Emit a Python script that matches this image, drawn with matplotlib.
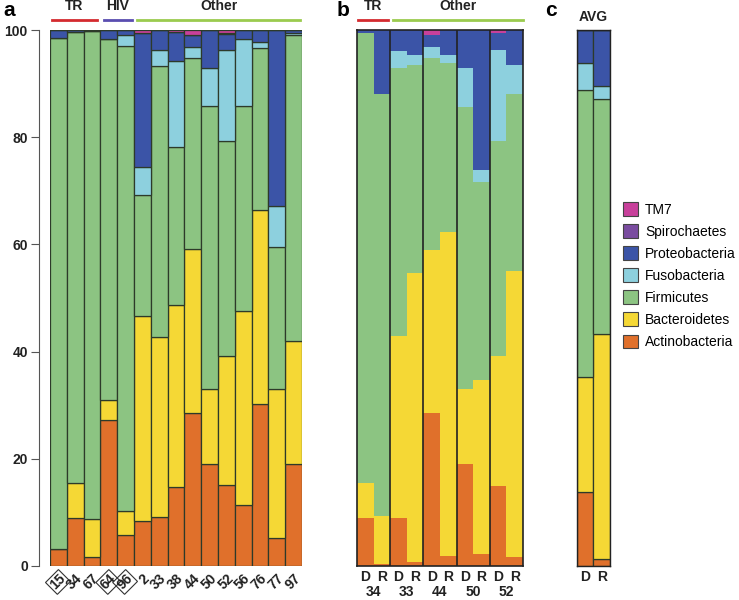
import numpy as np
import matplotlib
matplotlib.use("Agg")
import matplotlib.pyplot as plt
from matplotlib.patches import Patch
import matplotlib.transforms as mtransforms

plt.rcParams["font.family"] = ["Liberation Sans", "DejaVu Sans"]

phyla = ["Actinobacteria", "Bacteroidetes", "Firmicutes", "Fusobacteria",
         "Proteobacteria", "Spirochaetes", "TM7"]
colors = ["#E0702B", "#F5D835", "#8CC482", "#8DD0DE", "#3B54A7", "#7A4CA0", "#C8409B"]

# panel a: individual samples
samples_a = ["15", "34", "67", "64", "96", "2", "33", "38", "44", "50", "52", "56", "76", "77", "97"]
boxed_a = ["15", "64", "96"]
actino_a = [3.1, 9.0, 1.6, 27.2, 5.8, 8.3, 9.1, 14.8, 28.5, 19.1, 15.1, 11.3, 30.2, 5.3, 19.1]
bacter_a = [0.0, 6.4, 7.2, 3.8, 4.4, 38.4, 33.7, 33.8, 30.6, 13.9, 24.1, 36.3, 36.2, 27.7, 22.9]
firmic_a = [95.5, 84.2, 91.1, 67.3, 86.8, 22.5, 50.4, 29.6, 35.6, 52.8, 40.0, 38.2, 30.2, 26.5, 57.1]
fuso_a = [0.0, 0.0, 0.0, 0.0, 2.1, 5.3, 3.1, 16.0, 2.2, 7.1, 17.1, 12.6, 1.2, 7.7, 0.3]
proteo_a = [1.4, 0.4, 0.1, 1.7, 0.9, 24.9, 3.7, 5.4, 2.2, 7.1, 2.9, 1.6, 2.2, 32.8, 0.6]
spiro_a = [0.0, 0.0, 0.0, 0.0, 0.0, 0.1, 0.0, 0.0, 0.0, 0.0, 0.3, 0.0, 0.0, 0.0, 0.0]
tm7_a = [0.0, 0.0, 0.0, 0.0, 0.0, 0.5, 0.0, 0.4, 0.9, 0.0, 0.5, 0.0, 0.0, 0.0, 0.0]

# panel b: D/R pairs
pairs_b = ["34", "33", "44", "50", "52"]
sides_b = ["D", "R"] * 5
actino_b = [9.0, 0.3, 9.0, 0.8, 28.5, 1.9, 19.0, 2.2, 14.9, 1.6]
bacter_b = [6.4, 9.0, 34.0, 53.8, 30.5, 60.5, 14.0, 32.5, 24.2, 53.5]
firmic_b = [84.1, 78.8, 49.9, 38.9, 35.7, 31.4, 52.7, 37.0, 40.1, 32.9]
fuso_b = [0.0, 0.0, 3.2, 1.8, 2.2, 1.5, 7.2, 2.2, 17.1, 5.5]
proteo_b = [0.5, 11.9, 3.9, 4.7, 2.2, 4.7, 7.1, 26.1, 3.1, 6.5]
spiro_b = [0.0] * 10
tm7_b = [0.0, 0.0, 0.0, 0.0, 0.9, 0.0, 0.0, 0.0, 0.6, 0.0]

# panel c: averages
sides_c = ["D", "R"]
actino_c = [13.8, 1.3]
bacter_c = [21.4, 41.9]
firmic_c = [53.6, 44.0]
fuso_c = [5.0, 2.3]
proteo_c = [6.2, 10.5]
spiro_c = [0.0, 0.0]
tm7_c = [0.0, 0.0]


def stack(ax, layers, edge):
    x = np.arange(len(layers[0]))
    bottom = np.zeros(len(x))
    for vals, col in zip(layers, colors):
        vals = np.array(vals)
        if edge:
            ax.bar(x, vals, bottom=bottom, width=1.0, color=col,
                   edgecolor="#2d3a2a", linewidth=0.9)
        else:
            ax.bar(x, vals, bottom=bottom, width=1.0, color=col, linewidth=0)
        bottom += vals
    ax.set_xlim(-0.5, len(x) - 0.5)
    ax.set_ylim(0, 100)
    return x


def header(ax, x0, x1, color, label=None, tx=None):
    tr = mtransforms.blended_transform_factory(ax.transData, ax.transAxes)
    ax.plot([x0, x1], [1.019, 1.019], color=color, lw=2, transform=tr, clip_on=False)
    if label:
        ax.text(tx, 1.032, label, transform=tr, ha="center", va="bottom",
                fontsize=10, fontweight="bold", color="#222222")


fig = plt.figure(figsize=(7.39, 6.0), dpi=100)

# panel a
ax_a = fig.add_axes([0.0677, 0.0567, 0.341, 0.8933])
xa = stack(ax_a, [actino_a, bacter_a, firmic_a, fuso_a, proteo_a, spiro_a, tm7_a], True)
for s in ["top", "right", "bottom"]:
    ax_a.spines[s].set_visible(False)
ax_a.spines["left"].set_position(("outward", 8))
ax_a.spines["left"].set_color("#555555")
ax_a.set_yticks([0, 20, 40, 60, 80, 100])
ax_a.tick_params(axis="y", length=6, color="#555555", labelsize=10, pad=2)
for lab in ax_a.get_yticklabels():
    lab.set_fontweight("bold")
    lab.set_color("#222222")
ax_a.set_xticks(xa)
ax_a.set_xticklabels(samples_a, rotation=45, ha="right", va="top",
                     rotation_mode="anchor", fontsize=10, fontweight="bold", color="#222222")
ax_a.tick_params(axis="x", length=0, pad=4)
for lab in ax_a.get_xticklabels():
    if lab.get_text() in boxed_a:
        lab.set_bbox(dict(boxstyle="square,pad=0.1", fc="none", ec="#333333", lw=0.8))
header(ax_a, -0.4, 2.3, "#D42A2F", "TR", 0.95)
header(ax_a, 2.7, 4.35, "#5A4DB0", "HIV", 3.5)
header(ax_a, 4.7, 14.4, "#9BCB4E", "Other", 9.55)

# panel b
ax_b = fig.add_axes([0.483, 0.0567, 0.2247, 0.8933])
xb = stack(ax_b, [actino_b, bacter_b, firmic_b, fuso_b, proteo_b, spiro_b, tm7_b], False)
for s in ax_b.spines.values():
    s.set_color("#222222")
    s.set_linewidth(1.2)
for k in range(1, len(pairs_b)):
    ax_b.axvline(2 * k - 0.5, color="#222222", lw=1.2)
ax_b.set_yticks([])
ax_b.set_xticks(xb)
ax_b.set_xticklabels(sides_b, fontsize=10, fontweight="bold", color="#222222")
ax_b.tick_params(axis="x", length=0, pad=3)
trb = mtransforms.blended_transform_factory(ax_b.transData, ax_b.transAxes)
for k, p in enumerate(pairs_b):
    ax_b.text(2 * k + 0.5, -0.036, p, transform=trb, ha="center", va="top",
              fontsize=10, fontweight="bold", color="#222222")
header(ax_b, -0.44, 1.36, "#D42A2F", "TR", 0.46)
header(ax_b, 1.67, 9.5, "#9BCB4E", "Other", 5.6)

# panel c
ax_c = fig.add_axes([0.7808, 0.0567, 0.0446, 0.8933])
xc = stack(ax_c, [actino_c, bacter_c, firmic_c, fuso_c, proteo_c, spiro_c, tm7_c], True)
for s in ax_c.spines.values():
    s.set_color("#222222")
    s.set_linewidth(1.0)
ax_c.set_yticks([])
ax_c.set_xticks(xc)
ax_c.set_xticklabels(sides_c, fontsize=10, fontweight="bold", color="#222222")
ax_c.tick_params(axis="x", length=0, pad=3)
ax_c.text(0.5, 1.012, "AVG", transform=ax_c.transAxes, ha="center", va="bottom",
          fontsize=10, fontweight="bold", color="#222222")

# panel letters
fig.text(0.004, 0.998, "a", fontsize=15, fontweight="bold", va="top")
fig.text(0.455, 0.998, "b", fontsize=15, fontweight="bold", va="top")
fig.text(0.737, 0.998, "c", fontsize=15, fontweight="bold", va="top")

# legend
handles = [Patch(facecolor=c, edgecolor="#444444", linewidth=0.8, label=n)
           for n, c in zip(phyla, colors)][::-1]
fig.legend(handles=handles, loc="upper left", bbox_to_anchor=(0.835, 0.672),
           frameon=False, fontsize=10, handlelength=1.1, handleheight=1.1,
           labelspacing=0.55, handletextpad=0.5, borderaxespad=0)

fig.savefig("out.png", dpi=100)
